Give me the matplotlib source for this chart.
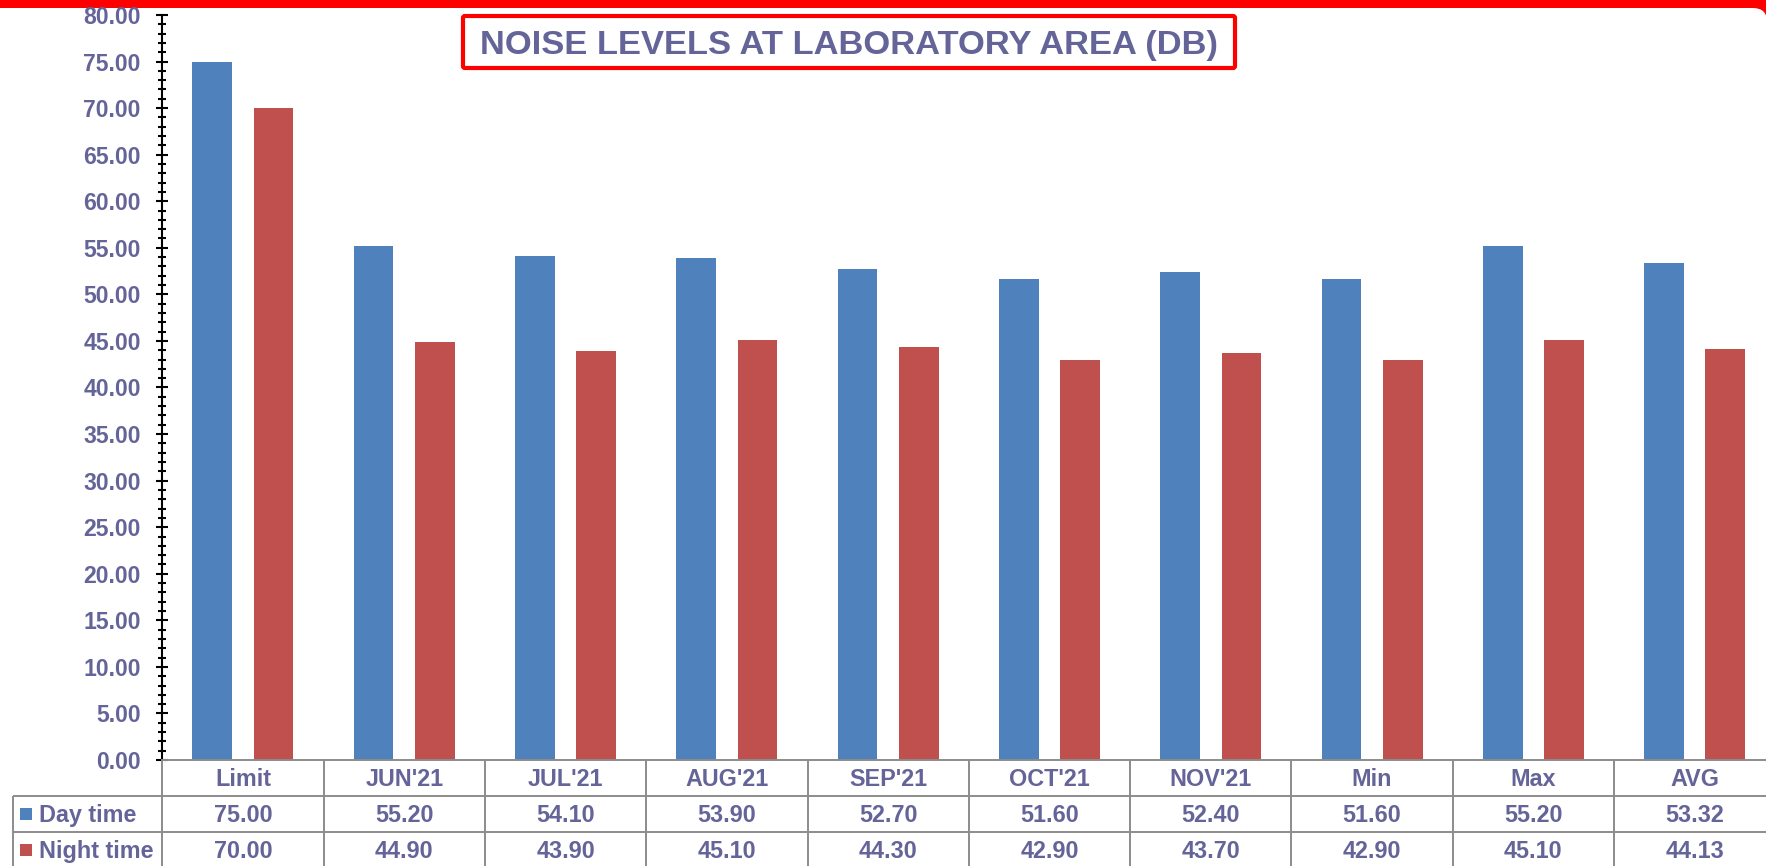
import matplotlib
matplotlib.use('Agg')
import matplotlib.pyplot as plt
from matplotlib.patches import Rectangle, FancyBboxPatch
from matplotlib.lines import Line2D
from matplotlib.ticker import MultipleLocator, FormatStrFormatter
import matplotlib.transforms as mtransforms
import numpy as np

# ---------------- data ----------------
categories = ["Limit", "JUN'21", "JUL'21", "AUG'21", "SEP'21", "OCT'21",
              "NOV'21", "Min", "Max", "AVG"]
day_time = [75.00, 55.20, 54.10, 53.90, 52.70, 51.60, 52.40, 51.60, 55.20, 53.32]
night_time = [70.00, 44.90, 43.90, 45.10, 44.30, 42.90, 43.70, 42.90, 45.10, 44.13]
series_names = ["Day time", "Night time"]
title_text = "NOISE LEVELS AT LABORATORY AREA (DB)"

# ---------------- style ----------------
plt.rcParams['font.family'] = ['Liberation Sans', 'DejaVu Sans']
TXT = '#646499'
BLUE = '#4F81BD'
RED = '#C0504D'
GRID = '#8c8c8c'

W, H = 1766, 866
DPI = 100
fig = plt.figure(figsize=(W / DPI, H / DPI), dpi=DPI)
fig.patch.set_facecolor('white')


def fx(px):
    return px / W


def fy(py_top):
    return 1 - py_top / H


# ---------------- red frame (top edge + rounded corner) ----------------
fig.add_artist(Rectangle((0, fy(8)), 1, 1 - fy(8), transform=fig.transFigure,
                         facecolor='#FF0000', edgecolor='none', zorder=-3))
fig.add_artist(Rectangle((fx(1720), fy(60)), 1 - fx(1720), fy(0) - fy(60),
                         transform=fig.transFigure, facecolor='#FF0000',
                         edgecolor='none', zorder=-3))
fig.add_artist(FancyBboxPatch((fx(-100), fy(1000)), fx(1767 + 100), fy(8) - fy(1000),
                              boxstyle=f"round,pad=0,rounding_size={14 / W}",
                              transform=fig.transFigure, facecolor='white',
                              edgecolor='none', zorder=-2,
                              mutation_aspect=W / H))

# ---------------- axes ----------------
ax_left, ax_right = 162.3, 1775.3
ax_top, ax_bot = 15, 760
ax = fig.add_axes([fx(ax_left), fy(ax_bot), (ax_right - ax_left) / W,
                   (ax_bot - ax_top) / H])
ax.set_facecolor('none')

x = np.arange(len(categories))
bw = 0.246
off = 0.19
ax.bar(x - off, day_time, bw, color=BLUE, zorder=2)
ax.bar(x + off, night_time, bw, color=RED, zorder=2)

ax.set_xlim(-0.5, len(categories) - 0.5)
ax.set_ylim(0, 80)
ax.set_xticks([])
ax.yaxis.set_major_locator(MultipleLocator(5))
ax.yaxis.set_minor_locator(MultipleLocator(1))
ax.yaxis.set_major_formatter(FormatStrFormatter('%.2f'))
ax.tick_params(axis='y', which='major', direction='inout', length=8, width=1.5,
               color='black', pad=11.5, labelsize=16.6, labelcolor=TXT)
ax.tick_params(axis='y', which='minor', direction='inout', length=5.5, width=1.5,
               color='black')
for lab in ax.get_yticklabels():
    lab.set_fontweight('bold')
for s in ['top', 'right']:
    ax.spines[s].set_visible(False)
ax.spines['left'].set_color('black')
ax.spines['left'].set_linewidth(1.5)
ax.spines['bottom'].set_color(GRID)
ax.spines['bottom'].set_linewidth(1.4)

# ---------------- data table ----------------
blend = mtransforms.blended_transform_factory(ax.transData, fig.transFigure)
row_y = [760, 796, 832, 868]
lbl_left_px = 13
lkw = dict(color=GRID, linewidth=1.4, solid_capstyle='butt')

# vertical lines at category boundaries
for k in range(len(categories) + 1):
    b = k - 0.5
    fig.add_artist(Line2D([b, b], [fy(row_y[0]), fy(row_y[-1])], transform=blend, **lkw))
# horizontal lines
for ry in row_y[1:]:
    fig.add_artist(Line2D([fx(lbl_left_px), 1.0], [fy(ry), fy(ry)],
                          transform=fig.transFigure, **lkw))
# left border of row label column
fig.add_artist(Line2D([fx(lbl_left_px), fx(lbl_left_px)], [fy(row_y[1]), fy(row_y[-1])],
                      transform=fig.transFigure, **lkw))

TFS = 16.8
cap_half = 0.716 * TFS * DPI / 72 / 2
for i, c in enumerate(categories):
    yc = (row_y[0] + row_y[1]) / 2
    fig.text(i, fy(yc + cap_half), c, transform=blend, ha='center', va='baseline',
             fontsize=TFS, fontweight='bold', color=TXT)
for r, (vals, name, col) in enumerate(zip([day_time, night_time], series_names,
                                         [BLUE, RED])):
    yc = (row_y[r + 1] + row_y[r + 2]) / 2
    for i, v in enumerate(vals):
        fig.text(i, fy(yc + cap_half), f"{v:.2f}", transform=blend, ha='center',
                 va='baseline', fontsize=TFS, fontweight='bold', color=TXT)
    fig.add_artist(Rectangle((fx(20), fy(yc + 6)), fx(12), fy(0) - fy(12),
                             transform=fig.transFigure, facecolor=col,
                             edgecolor='none'))
    fig.text(fx(39), fy(yc + cap_half), name, ha='left', va='baseline',
             fontsize=TFS, fontweight='bold', color=TXT)

# ---------------- title ----------------
fig.add_artist(FancyBboxPatch((fx(463), fy(68)), fx(1235 - 463), fy(16) - fy(68),
                              boxstyle=f"round,pad=0,rounding_size={2 / W}",
                              transform=fig.transFigure, facecolor='white',
                              edgecolor='#FF0000', linewidth=3.0, zorder=5,
                              mutation_aspect=W / H))
fig.text(fx(849), fy(54), title_text, ha='center', va='baseline', fontsize=24.8,
         fontweight='bold', color=TXT, zorder=6)

fig.savefig('out.png', dpi=DPI, facecolor='white')
